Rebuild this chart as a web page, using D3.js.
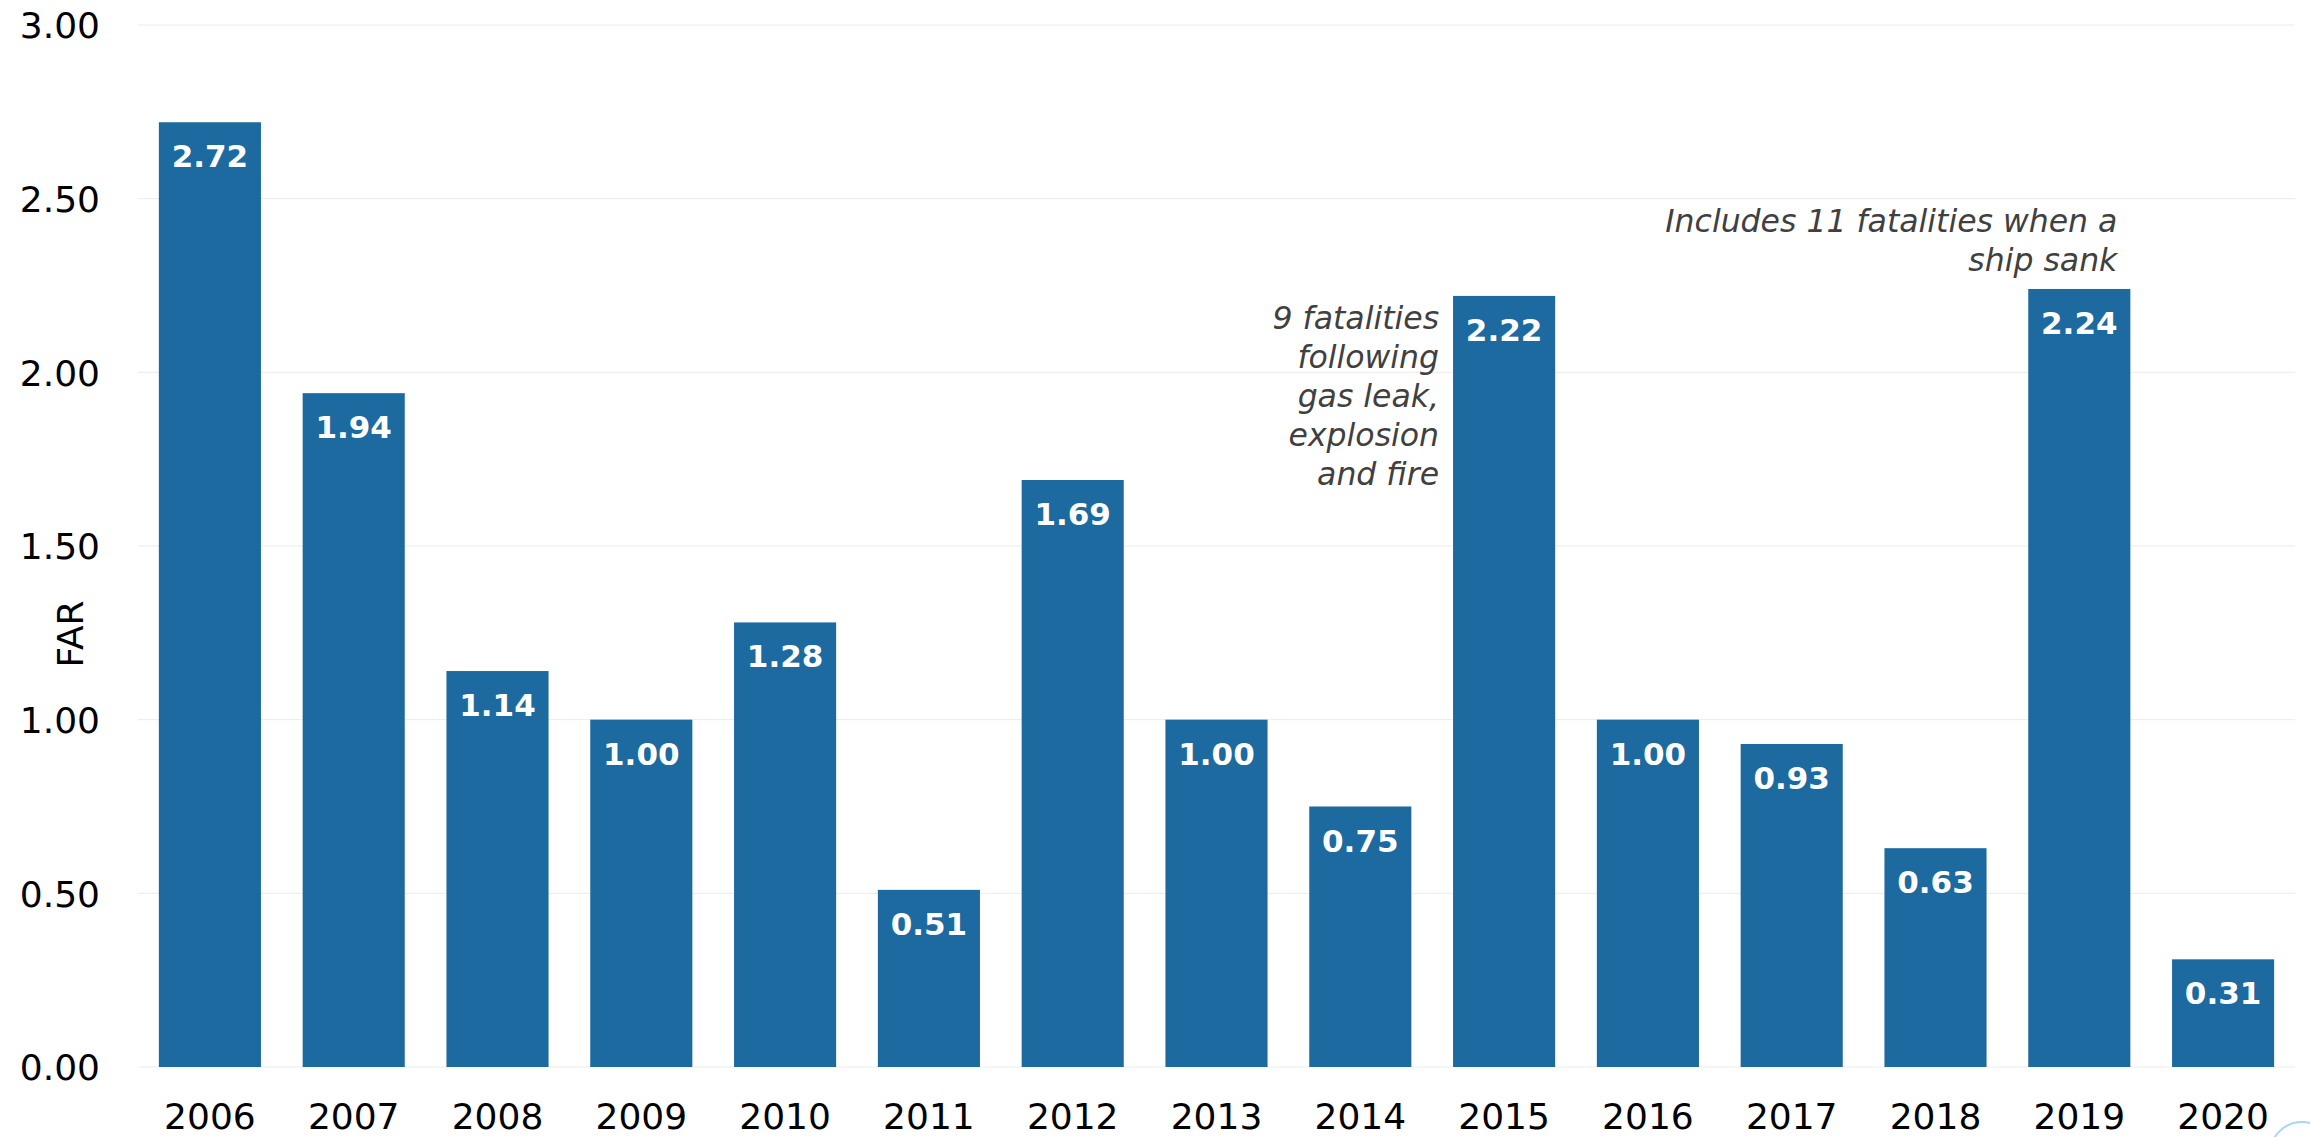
<!DOCTYPE html>
<html>
<head>
<meta charset="utf-8">
<script src="https://cdn.jsdelivr.net/npm/d3@7"></script>
<style>
  html, body { margin: 0; padding: 0; background: #fff; }
  svg { display: block; }
  text { font-family: "DejaVu Sans", Verdana, sans-serif; }
  .tick-label { font-size: 36px; fill: #000; }
  .axis-label { font-size: 36px; fill: #000; }
  .bar-label { font-size: 31px; font-weight: bold; fill: #fff; }
  .note { font-size: 31.5px; font-style: italic; fill: #404040; }
</style>
</head>
<body>
<div id="chart"></div>
<script>
// values
const years = ["2006", "2007", "2008", "2009", "2010", "2011", "2012", "2013",
               "2014", "2015", "2016", "2017", "2018", "2019", "2020"];
const far = [2.72, 1.94, 1.14, 1.00, 1.28, 0.51, 1.69, 1.00,
             0.75, 2.22, 1.00, 0.93, 0.63, 2.24, 0.31];
const yTicks = [0, 0.5, 1, 1.5, 2, 2.5, 3];

// annotations: year, lines, which side of the bar the text sits on
const notes = [
  { year: "2015", side: "left",
    lines: ["9 fatalities", "following", "gas leak,", "explosion", "and fire"] },
  { year: "2019", side: "inside",
    lines: ["Includes 11 fatalities when a", "ship sank"] }
];

const W = 2310, H = 1137;
const margin = { top: 25, right: 15, bottom: 70, left: 138 };

const svg = d3.select("#chart").append("svg")
  .attr("width", W)
  .attr("height", H);

const x = d3.scaleBand()
  .domain(years)
  .range([margin.left, W - margin.right])
  .paddingInner(0.29)
  .paddingOuter(0.145);

const y = d3.scaleLinear()
  .domain([0, 3])
  .range([H - margin.bottom, margin.top]);

// gridlines
svg.append("g")
  .selectAll("line")
  .data(yTicks)
  .join("line")
  .attr("x1", margin.left)
  .attr("x2", W - margin.right)
  .attr("y1", d => y(d))
  .attr("y2", d => y(d))
  .attr("stroke", "#ebebeb")
  .attr("stroke-width", 1);

// y axis
const yAxis = svg.append("g")
  .attr("transform", `translate(${margin.left},0)`)
  .call(d3.axisLeft(y).tickValues(yTicks).tickFormat(d3.format(".2f")).tickSize(0).tickPadding(38));
yAxis.select(".domain").remove();
yAxis.selectAll("text").attr("class", "tick-label").attr("font-family", null).attr("font-size", null)
  .attr("dy", "0.36em");

// x axis
const xAxis = svg.append("g")
  .attr("transform", `translate(0,${y(0)})`)
  .call(d3.axisBottom(x).tickSize(0).tickPadding(36));
xAxis.select(".domain").remove();
xAxis.selectAll("text").attr("class", "tick-label").attr("font-family", null).attr("font-size", null)
  .attr("dy", "0.71em");

svg.append("text")
  .attr("class", "axis-label")
  .attr("transform", `translate(83,634) rotate(-90)`)
  .attr("text-anchor", "middle")
  .text("FAR");

// bars
const data = years.map((yr, i) => ({ year: yr, value: far[i] }));

svg.append("g")
  .selectAll("rect")
  .data(data)
  .join("rect")
  .attr("x", d => x(d.year))
  .attr("y", d => y(d.value))
  .attr("width", x.bandwidth())
  .attr("height", d => y(0) - y(d.value))
  .attr("fill", "#1c6aa0");

svg.append("g")
  .selectAll("text")
  .data(data)
  .join("text")
  .attr("class", "bar-label")
  .attr("x", d => x(d.year) + x.bandwidth() / 2)
  .attr("y", d => y(d.value) + 45)
  .attr("text-anchor", "middle")
  .text(d => d.value.toFixed(2));

// notes
notes.forEach(n => {
  const v = far[years.indexOf(n.year)];
  const lineH = 39;
  let tx, ty;
  if (n.side === "left") {
    tx = x(n.year) - 14;
    ty = y(v) + 33;
  } else {
    tx = x(n.year) + x.bandwidth() - 13;
    ty = y(v) - 57;
  }
  const t = svg.append("text")
    .attr("class", "note")
    .attr("text-anchor", "end");
  n.lines.forEach((ln, i) => {
    t.append("tspan")
      .attr("x", tx)
      .attr("y", ty + i * lineH)
      .text(ln);
  });
});

// stray button outline in the lower right corner
svg.append("circle")
  .attr("cx", 2302)
  .attr("cy", 1154)
  .attr("r", 32)
  .attr("fill", "none")
  .attr("stroke", "#a9d5f7")
  .attr("stroke-width", 2);
</script>
</body>
</html>
